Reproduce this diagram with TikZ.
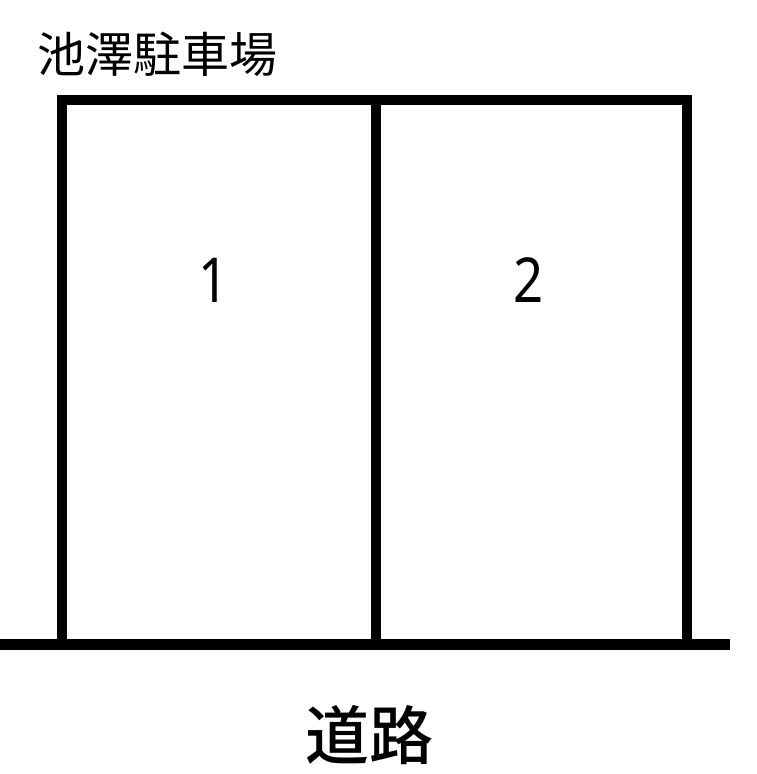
\documentclass[tikz,border=0pt]{standalone}
\usepackage{fontspec}
\setmainfont{Noto Sans CJK JP}
\newfontfamily\jpfont{Noto Sans CJK JP}
\newfontfamily\jpbold{Noto Sans CJK JP Medium}
\newfontfamily\digfont{Noto Sans}
\tikzset{
  wall/.style={line width=10pt, line cap=butt},
  road/.style={line width=11pt, line cap=butt},
  lbl/.style={inner sep=0pt, xscale=0.85, font=\digfont\fontsize{62}{62}\selectfont},
}
\begin{document}
\begin{tikzpicture}[x=1pt,y=-1pt]
\useasboundingbox (0,0) rectangle (756,774);
\fill[white] (0,0) rectangle (756,774);
% corners
\coordinate (tl) at (62,100);
\coordinate (tm) at (376,100);
\coordinate (tr) at (687,100);
\coordinate (bl) at (62,644);
\coordinate (bm) at (376,644);
\coordinate (br) at (687,644);
\coordinate (rl) at (0,644);
\coordinate (rr) at (730,644);
% walls
\draw[wall, line join=miter] (bl) -- (tl) -- (tr) -- (br);
\draw[wall] (tm) -- (bm);
\draw[road] (rl) -- (rr);
% texts
\node[anchor=west, inner sep=0pt, font=\jpfont\fontsize{48}{48}\selectfont] (title) at (37,54) {池澤駐車場};
\node[lbl] (n1) at (214,280) {1};
\node[lbl] (n2) at (529,280) {2};
\node[inner sep=0pt, font=\jpbold\fontsize{64}{64}\selectfont] (road) at (369,735) {道路};
\end{tikzpicture}
\end{document}
